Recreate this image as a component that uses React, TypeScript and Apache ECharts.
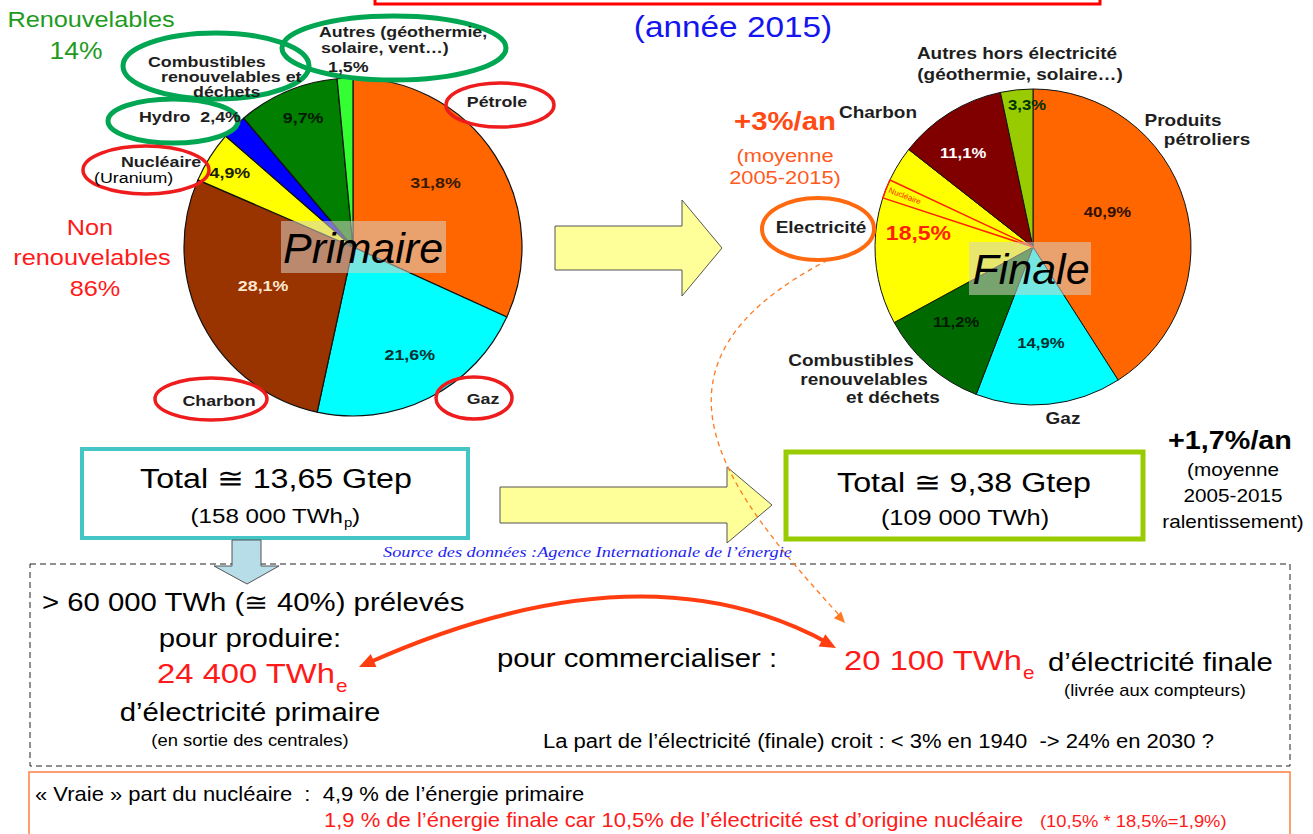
import React, { useEffect, useRef } from "react";
import * as echarts from "echarts";

// ---------- DATA ----------
const primaryCategories = [
  "Pétrole",
  "Gaz",
  "Charbon",
  "Nucléaire",
  "Hydro",
  "Combustibles renouvelables et déchets",
  "Autres (géothermie, solaire, vent…)",
];
const primaryValues = [31.8, 21.6, 28.1, 4.9, 2.4, 9.7, 1.5];

const finalCategories = [
  "Produits pétroliers",
  "Gaz",
  "Combustibles renouvelables et déchets",
  "Electricité",
  "Charbon",
  "Autres hors électricité",
];
const finalValues = [40.9, 14.9, 11.2, 18.5, 11.1, 3.3];

const nuclearShareOfElectricity = 10.5; // % of final electricity of nuclear origin
const renewableShare = 14;
const nonRenewableShare = 86;

// ---------- STYLE / LAYOUT ----------
const primaryColors = ["#FF6600", "#00FFFF", "#993300", "#FFFF00", "#0000FF", "#007F00", "#33FF33"];
const finalColors = ["#FF6600", "#00FFFF", "#006A00", "#FFFF00", "#800000", "#99CC00"];
const P_CENTER: [number, number] = [353, 247];
const P_R = 169;
const F_CENTER: [number, number] = [1033, 247];
const F_R = 158;
const nuclearWedgeOffset = 0.7; // position of nuclear wedge inside electricity slice
// label placement inside slices: [fraction of slice angle, fraction of radius]
const pLabelPos: (number[] | null)[] = [[0.454, 0.62], [0.485, 0.72], [0.537, 0.58], [0.43, 0.85], null, [0.55, 0.82], null];
const pLabelColor = ["#3A1A00", "#003333", "#FFE6CC", "#202000", "", "#001A00", ""];
const fLabelPos: number[][] = [[0.44, 0.52], [0.52, 0.61], [0.61, 0.68], [0.53, 0.73], [0.38, 0.74], [0.8, 0.9]];
const fLabelColor = ["#301000", "#003030", "#001A00", "#FF2200", "#FFFFFF", "#003300"];

const FONT = "'Liberation Sans', Arial, Helvetica, sans-serif";

const fmt = (v: number) => v.toFixed(1).replace(".", ",") + "%";
const sum = (a: number[]) => a.reduce((s, v) => s + v, 0);

function slicePoint(values: number[], i: number, c: [number, number], r: number, pos: number[]) {
  const total = sum(values);
  const before = sum(values.slice(0, i));
  const ang = ((before + values[i] * pos[0]) / total) * 2 * Math.PI;
  return [c[0] + Math.sin(ang) * r * pos[1], c[1] - Math.cos(ang) * r * pos[1]];
}
function boundaryAngle(values: number[], upto: number) {
  return (upto / sum(values)) * 2 * Math.PI;
}

type TO = {
  size?: number;
  color?: string;
  bold?: boolean;
  italic?: boolean;
  align?: string;
  family?: string;
  rotation?: number;
  z?: number;
  sx?: number;
};
const txt = (x: number, y: number, text: string, o: TO = {}) => ({
  type: "text",
  x,
  y,
  z: o.z ?? 50,
  rotation: o.rotation ?? 0,
  scaleX: o.sx ?? 1.15,
  silent: true,
  style: {
    text,
    x: 0,
    y: 0,
    fill: o.color ?? "#000",
    fontSize: o.size ?? 14,
    fontWeight: o.bold ? "bold" : "normal",
    fontStyle: o.italic ? "italic" : "normal",
    fontFamily: o.family ?? FONT,
    align: o.align ?? "center",
    verticalAlign: "middle",
    textAlign: o.align ?? "center",
    textVerticalAlign: "middle",
  },
});
const ell = (cx: number, cy: number, rx: number, ry: number, stroke: string, lw: number) => ({
  type: "ellipse",
  z: 45,
  silent: true,
  shape: { cx, cy, rx, ry },
  style: { fill: "none", stroke, lineWidth: lw },
});
const arrowHead = (tip: number[], dir: number[], len: number, half: number, color: string) => {
  const n = Math.hypot(dir[0], dir[1]);
  const dx = dir[0] / n, dy = dir[1] / n;
  const bx = tip[0] - dx * len, by = tip[1] - dy * len;
  return {
    type: "polygon",
    z: 40,
    silent: true,
    shape: { points: [tip, [bx - dy * half, by + dx * half], [bx + dy * half, by - dx * half]] },
    style: { fill: color },
  };
};

export default function App() {
  const ref = useRef<HTMLDivElement>(null);

  useEffect(() => {
    if (!ref.current) return;
    const chart = echarts.init(ref.current, null, { renderer: "svg" });

    const GREEN = "#00A651";
    const RED = "#EE1C1C";
    const DARK = "#1E1E1E";
    const LB = 15.5; // left outer label size
    const RB = 16.5; // right outer label size

    const els: any[] = [];

    // title box + year
    els.push({
      type: "rect", z: 5, silent: true,
      shape: { x: 375, y: -10, width: 725, height: 14 },
      style: { fill: "none", stroke: "#FF0000", lineWidth: 3 },
    });
    els.push(txt(733, 27, "(année 2015)", { size: 29, color: "#1414F0" }));

    // Left side texts
    els.push(txt(91, 20, "Renouvelables", { size: 22, color: "#1E9B1E" }));
    els.push(txt(76, 51, `${renewableShare}%`, { size: 23, color: "#1E9B1E" }));
    els.push(txt(90, 228, "Non", { size: 22, color: "#FF1A1A" }));
    els.push(txt(92, 258, "renouvelables", { size: 22, color: "#FF1A1A" }));
    els.push(txt(95, 289, `${nonRenewableShare}%`, { size: 22, color: "#FF1A1A" }));

    // primary pie labels
    primaryValues.forEach((v, i) => {
      const pos = pLabelPos[i];
      if (!pos) return;
      const [x, y] = slicePoint(primaryValues, i, P_CENTER, P_R, pos);
      els.push(txt(x, y, fmt(v), { size: 15.5, bold: true, color: pLabelColor[i] }));
    });

    // primary outer labels
    els.push(txt(148, 62, "Combustibles", { size: LB, bold: true, color: DARK, align: "left" }));
    els.push(txt(161, 77, "renouvelables et", { size: LB, bold: true, color: DARK, align: "left" }));
    els.push(txt(193, 92, "déchets", { size: LB, bold: true, color: DARK, align: "left" }));
    els.push(ell(216, 66, 93, 33, GREEN, 5));

    els.push(txt(319, 32, "Autres (géothermie,", { size: LB, bold: true, color: DARK, align: "left" }));
    els.push(txt(321, 48, "solaire, vent…)", { size: LB, bold: true, color: DARK, align: "left" }));
    els.push(txt(328, 67, fmt(primaryValues[6]), { size: LB, bold: true, color: DARK, align: "left" }));
    els.push(ell(394, 48, 112, 32, GREEN, 5));

    els.push(txt(139, 117, `Hydro  ${fmt(primaryValues[4])}`, { size: LB, bold: true, color: DARK, align: "left" }));
    els.push(ell(173, 121, 65, 22, GREEN, 5));

    els.push(txt(121, 162, "Nucléaire", { size: LB, bold: true, color: DARK, align: "left" }));
    els.push(txt(94, 178, "(Uranium)", { size: LB, color: "#000", align: "left" }));
    els.push(ell(146, 170, 63, 24, RED, 3.5));

    els.push(txt(497, 102, "Pétrole", { size: LB, bold: true, color: DARK }));
    els.push(ell(500, 105, 54, 22, RED, 3.5));
    els.push(txt(219, 401, "Charbon", { size: LB, bold: true, color: DARK }));
    els.push(ell(211, 399, 56, 21, RED, 3.5));
    els.push(txt(483, 399, "Gaz", { size: LB, bold: true, color: DARK }));
    els.push(ell(474, 398, 38, 21, RED, 3.5));

    // Primaire label
    els.push({
      type: "rect", z: 20, silent: true,
      shape: { x: 281, y: 221, width: 165, height: 52 },
      style: { fill: "rgba(215,210,200,0.55)" },
    });
    els.push(txt(363, 248, "Primaire", { size: 43, italic: true, color: "#000", z: 25, sx: 1 }));

    // Big arrow between pies
    els.push({
      type: "polygon", z: 10, silent: true,
      shape: { points: [[555, 226], [682, 226], [682, 200], [722, 248], [682, 296], [682, 270], [555, 270]] },
      style: { fill: "#FFFF99", stroke: "#555", lineWidth: 1 },
    });

    // Final pie labels
    finalValues.forEach((v, i) => {
      const [x, y] = slicePoint(finalValues, i, F_CENTER, F_R, fLabelPos[i]);
      els.push(txt(x, y, fmt(v), { size: i === 3 ? 20 : 14.5, bold: true, color: fLabelColor[i] }));
    });
    els.push(txt(1017, 53, "Autres hors électricité", { size: RB, bold: true, color: DARK }));
    els.push(txt(1020, 74, "(géothermie, solaire…)", { size: RB, bold: true, color: DARK }));
    els.push(txt(878, 112, "Charbon", { size: RB, bold: true, color: DARK }));
    els.push(txt(1183, 120, "Produits", { size: RB, bold: true, color: DARK }));
    els.push(txt(1207, 139, "pétroliers", { size: RB, bold: true, color: DARK }));
    els.push(txt(821, 227, "Electricité", { size: RB, bold: true, color: DARK }));
    els.push(ell(818, 229, 56, 31, "#FF6A10", 4));
    els.push(txt(851, 360, "Combustibles", { size: RB, bold: true, color: DARK }));
    els.push(txt(864, 379, "renouvelables", { size: RB, bold: true, color: DARK }));
    els.push(txt(893, 397, "et déchets", { size: RB, bold: true, color: DARK }));
    els.push(txt(1063, 418, "Gaz", { size: RB, bold: true, color: DARK }));

    els.push(txt(785, 121, "+3%/an", { size: 25.5, bold: true, color: "#FF4A14" }));
    els.push(txt(785, 155, "(moyenne", { size: 19, color: "#FF5A20" }));
    els.push(txt(785, 177, "2005-2015)", { size: 19, color: "#FF5A20" }));

    // nuclear wedge text
    {
      const before = sum(finalValues.slice(0, 3)) + finalValues[3] * nuclearWedgeOffset;
      const wedge = (finalValues[3] * nuclearShareOfElectricity) / 100;
      const a = boundaryAngle(finalValues, before + wedge / 2);
      const inward = [-Math.sin(a), Math.cos(a)];
      const px = F_CENTER[0] + Math.sin(a) * F_R * 0.98;
      const py = F_CENTER[1] - Math.cos(a) * F_R * 0.98;
      els.push(
        txt(px, py, "Nucléaire", {
          size: 8, color: "#FF2200", align: "left", sx: 1,
          rotation: -Math.atan2(inward[1], inward[0]), z: 30,
        })
      );
    }

    // Finale label
    els.push({
      type: "rect", z: 20, silent: true,
      shape: { x: 969, y: 242, width: 122, height: 53 },
      style: { fill: "rgba(215,210,200,0.55)" },
    });
    els.push(txt(1031, 269, "Finale", { size: 43, italic: true, color: "#000", z: 25, sx: 1 }));

    // Totals
    els.push({
      type: "rect", z: 10, silent: true,
      shape: { x: 82, y: 449, width: 386, height: 89 },
      style: { fill: "#fff", stroke: "#45C6C6", lineWidth: 4 },
    });
    els.push(txt(276, 478, "Total ≅ 13,65 Gtep", { size: 28 }));
    els.push(txt(343, 516, "(158 000 TWh", { size: 21, align: "right" }));
    els.push(txt(344, 522, "p", { size: 13, align: "left" }));
    els.push(txt(352, 516, ")", { size: 21, align: "left" }));

    els.push({
      type: "polygon", z: 10, silent: true,
      shape: { points: [[500, 487], [727, 487], [727, 467], [772, 505], [727, 543], [727, 523], [500, 523]] },
      style: { fill: "#FFFF99", stroke: "#555", lineWidth: 1 },
    });

    els.push({
      type: "rect", z: 10, silent: true,
      shape: { x: 786, y: 452, width: 357, height: 87 },
      style: { fill: "#fff", stroke: "#99CC00", lineWidth: 5 },
    });
    els.push(txt(964, 482, "Total ≅ 9,38 Gtep", { size: 28 }));
    els.push(txt(965, 518, "(109 000 TWh)", { size: 22 }));

    els.push(txt(1230, 441, "+1,7%/an", { size: 25, bold: true }));
    els.push(txt(1233, 470, "(moyenne", { size: 18 }));
    els.push(txt(1233, 496, "2005-2015", { size: 18 }));
    els.push(txt(1233, 522, "ralentissement)", { size: 18 }));

    // down arrow
    els.push({
      type: "polygon", z: 12, silent: true,
      shape: { points: [[232, 540], [261, 540], [261, 566], [279, 566], [247, 584], [214, 566], [232, 566]] },
      style: { fill: "#B7DDE8", stroke: "#555", lineWidth: 1 },
    });

    els.push(
      txt(383, 552, "Source des données :Agence Internationale de l’énergie", {
        size: 15, italic: true, color: "#1E1EEE", align: "left", sx: 1.22,
        family: "'Liberation Serif', 'Times New Roman', serif",
      })
    );

    // dashed box
    els.push({
      type: "rect", z: 3, silent: true,
      shape: { x: 30, y: 564, width: 1260, height: 202 },
      style: { fill: "none", stroke: "#222", lineWidth: 1, lineDash: [6, 4] },
    });

    els.push(txt(42, 602, "> 60 000 TWh (≅ 40%) prélevés", { size: 25.5, align: "left" }));
    els.push(txt(250, 638, "pour produire:", { size: 25.5 }));
    els.push(txt(335, 673, "24 400 TWh", { size: 28.5, color: "#FF1A1A", align: "right" }));
    els.push(txt(336, 686, "e", { size: 18, color: "#FF1A1A", align: "left" }));
    els.push(txt(250, 712, "d’électricité primaire", { size: 25.5 }));
    els.push(txt(250, 740, "(en sortie des centrales)", { size: 16 }));
    els.push(txt(637, 658, "pour commercialiser :", { size: 25.5 }));
    els.push(txt(1022, 660, "20 100 TWh", { size: 28.5, color: "#FF1A1A", align: "right" }));
    els.push(txt(1023, 673, "e", { size: 18, color: "#FF1A1A", align: "left" }));
    els.push(txt(1048, 662, "d’électricité finale", { size: 25.5, align: "left" }));
    els.push(txt(1155, 690, "(livrée aux compteurs)", { size: 16 }));
    els.push(
      txt(543, 741, "La part de l’électricité (finale) croit : < 3% en 1940  -> 24% en 2030 ?", {
        size: 19.5, align: "left", sx: 1.13,
      })
    );

    // red curved double arrow
    {
      const P0 = [368, 663], C = [642, 541], P2 = [828, 643];
      els.push({
        type: "bezierCurve", z: 30, silent: true,
        shape: { x1: P0[0], y1: P0[1], cpx1: C[0], cpy1: C[1], x2: P2[0], y2: P2[1] },
        style: { fill: "none", stroke: "#FF3D10", lineWidth: 4 },
      });
      els.push(arrowHead([P0[0] - 9, P0[1] + 4], [P0[0] - C[0], P0[1] - C[1]], 16, 7, "#FF3D10"));
      els.push(arrowHead([P2[0] + 8, P2[1] + 5], [P2[0] - C[0], P2[1] - C[1]], 16, 7, "#FF3D10"));
    }

    // orange dashed curve
    {
      const A = [828, 260], B = [625, 365], Cc = [725, 490], D = [840, 616];
      els.push({
        type: "bezierCurve", z: 30, silent: true,
        shape: { x1: A[0], y1: A[1], cpx1: B[0], cpy1: B[1], cpx2: Cc[0], cpy2: Cc[1], x2: D[0], y2: D[1] },
        style: { fill: "none", stroke: "#FF7A20", lineWidth: 1.3, lineDash: [5, 4] },
      });
      els.push(arrowHead([D[0] + 5, D[1] + 7], [D[0] - Cc[0], D[1] - Cc[1]], 11, 5, "#FF7A20"));
    }

    // bottom orange box
    els.push({
      type: "rect", z: 3, silent: true,
      shape: { x: 29, y: 772, width: 1261, height: 80 },
      style: { fill: "none", stroke: "#FF8040", lineWidth: 1.5 },
    });
    els.push(
      txt(35, 794, "« Vraie » part du nucléaire  :  4,9 % de l’énergie primaire", { size: 20, align: "left", sx: 1.1 })
    );
    els.push(
      txt(324, 820, "1,9 % de l’énergie finale car 10,5% de l’électricité est d’origine nucléaire", {
        size: 20, color: "#FF1A1A", align: "left", sx: 1.1,
      })
    );
    els.push(txt(1040, 821, "(10,5% * 18,5%=1,9%)", { size: 16, color: "#FF1A1A", align: "left" }));

    // nuclear wedge overlay data
    const beforeWedge = sum(finalValues.slice(0, 3)) + finalValues[3] * nuclearWedgeOffset;
    const wedgeVal = (finalValues[3] * nuclearShareOfElectricity) / 100;
    const transparent = { color: "rgba(0,0,0,0)", borderWidth: 0 };

    chart.setOption({
      animation: false,
      backgroundColor: "#ffffff",
      series: [
        {
          type: "pie",
          z: 2,
          center: P_CENTER,
          radius: [0, P_R],
          startAngle: 90,
          clockwise: true,
          silent: true,
          label: { show: false },
          labelLine: { show: false },
          itemStyle: { borderColor: "#111", borderWidth: 1.2 },
          data: primaryValues.map((v, i) => ({
            name: primaryCategories[i],
            value: v,
            itemStyle: { color: primaryColors[i] },
          })),
        },
        {
          type: "pie",
          z: 2,
          center: F_CENTER,
          radius: [0, F_R],
          startAngle: 90,
          clockwise: true,
          silent: true,
          label: { show: false },
          labelLine: { show: false },
          itemStyle: { borderColor: "#111", borderWidth: 1 },
          data: finalValues.map((v, i) => ({
            name: finalCategories[i],
            value: v,
            itemStyle: { color: finalColors[i] },
          })),
        },
        {
          type: "pie",
          z: 3,
          center: F_CENTER,
          radius: [0, F_R],
          startAngle: 90,
          clockwise: true,
          silent: true,
          label: { show: false },
          labelLine: { show: false },
          data: [
            { name: "avant", value: beforeWedge, itemStyle: transparent },
            {
              name: "Nucléaire",
              value: wedgeVal,
              itemStyle: { color: "rgba(255,255,0,0)", borderColor: "#FF2200", borderWidth: 1.5 },
            },
            { name: "après", value: sum(finalValues) - beforeWedge - wedgeVal, itemStyle: transparent },
          ],
        },
      ],
      graphic: { elements: els },
    });

    return () => chart.dispose();
  }, []);

  return (
    <div
      ref={ref}
      style={{ position: "fixed", left: 0, top: 0, width: 1313, height: 834, background: "#fff" }}
    />
  );
}
